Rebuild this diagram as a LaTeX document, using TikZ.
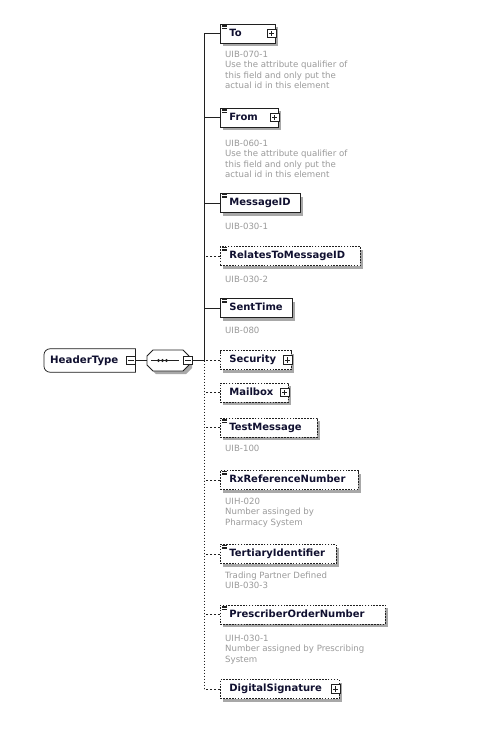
\documentclass[tikz,border=0pt]{standalone}
\usepackage{fontspec}
\setmainfont{DejaVu Sans}
\definecolor{elemtext}{HTML}{101030}
\definecolor{anntext}{HTML}{9A9A9A}
\definecolor{shadowgray}{HTML}{A8A8A8}
\definecolor{linegray}{HTML}{202020}
\begin{document}
\begin{tikzpicture}[x=1pt,y=-1pt,
  elem/.style={draw=linegray, fill=white, line width=0.75pt, anchor=west,
    minimum height=19pt, inner xsep=0pt, inner ysep=0pt,
    text height=7.6pt, text depth=2pt, align=left,
    font=\fontsize{10}{12}\selectfont\bfseries, text=elemtext,
    preaction={fill=shadowgray, draw=none, transform canvas={xshift=3pt,yshift=-3pt}}},
  optbox/.style={dash pattern=on 1.6pt off 1.3pt},
  optline/.style={line width=0.8pt, dash pattern=on 2pt off 2pt},
  dotline/.style={line width=0.9pt, dash pattern=on 1.5pt off 1.5pt},
  conn/.style={line width=0.9pt, draw=linegray},
  ann/.style={anchor=base west, inner sep=0pt, font=\fontsize{8.6}{10.5}\selectfont, text=anntext},
  plusbox/.style={draw=linegray, fill=white, line width=0.65pt, minimum size=8.5pt, inner sep=0pt,
    path picture={\draw[line width=0.65pt] ([xshift=-2.6pt]path picture bounding box.center) -- ([xshift=2.6pt]path picture bounding box.center);
                  \draw[line width=0.65pt] ([yshift=-2.6pt]path picture bounding box.center) -- ([yshift=2.6pt]path picture bounding box.center);}},
  minusbox/.style={draw=linegray, fill=white, line width=0.65pt, minimum size=8.5pt, inner sep=0pt,
    path picture={\draw[line width=0.65pt] ([xshift=-2.6pt]path picture bounding box.center) -- ([xshift=2.6pt]path picture bounding box.center);}},
  icon/.style={line width=0.4pt, draw=linegray}
]
\useasboundingbox[fill=white] (0,0) rectangle (486,742);

% ---------- elements ----------
\node[elem, text width=55pt] (to) at (220,33.5) {\hspace*{9pt}To};
\node[elem, text width=58pt] (from) at (220,117.5) {\hspace*{9pt}From};
\node[elem, text width=80pt] (msgid) at (220,203) {\hspace*{9pt}MessageID};
\node[elem, optbox, text width=140pt] (rel) at (220,256) {\hspace*{9pt}RelatesToMessageID};
\node[elem, text width=72pt] (sent) at (220,308) {\hspace*{9pt}SentTime};
\node[elem, optbox, text width=71pt] (sec) at (220,360) {\hspace*{9pt}Security};
\node[elem, optbox, text width=68pt] (mail) at (220,392.5) {\hspace*{9pt}Mailbox};
\node[elem, optbox, text width=97pt] (test) at (220,427.5) {\hspace*{9pt}TestMessage};
\node[elem, optbox, text width=138pt] (rx) at (220,480) {\hspace*{9pt}RxReferenceNumber};
\node[elem, optbox, text width=116pt] (tert) at (220,554) {\hspace*{9pt}TertiaryIdentifier};
\node[elem, optbox, text width=165pt] (presc) at (220,614.5) {\hspace*{9pt}PrescriberOrderNumber};
\node[elem, optbox, text width=119pt] (dig) at (220,689) {\hspace*{9pt}DigitalSignature};

% plus boxes
\node[plusbox] (toplus) at ([xshift=-4pt]to.east) {};
\node[plusbox] (fromplus) at ([xshift=-4pt]from.east) {};
\node[plusbox] (secplus) at ([xshift=-4pt]sec.east) {};
\node[plusbox] (mailplus) at ([xshift=-4pt]mail.east) {};
\node[plusbox] (digplus) at ([xshift=-4pt]dig.east) {};

% small element icons
\foreach \n in {to,from,msgid,rel,sent,test,rx,tert,presc}{
  \foreach \d in {1.3,2.9,4.5}{
    \draw[icon] ([xshift=2pt,yshift=-\d pt]\n.north west) -- ([xshift=7pt,yshift=-\d pt]\n.north west);
  }
}

% ---------- annotations ----------
\node[ann] (a1) at (225,57) {UIB-070-1};
\node[ann] (a2) at (225,67.5) {Use the attribute qualifier of};
\node[ann] (a3) at (225,78) {this field and only put the};
\node[ann] (a4) at (225,88.5) {actual id in this element};
\node[ann] (b1) at (225,146) {UIB-060-1};
\node[ann] (b2) at (225,156.5) {Use the attribute qualifier of};
\node[ann] (b3) at (225,167) {this field and only put the};
\node[ann] (b4) at (225,177.5) {actual id in this element};
\node[ann] (c1) at (225,229.5) {UIB-030-1};
\node[ann] (d1) at (225,282.5) {UIB-030-2};
\node[ann] (e1) at (225,333) {UIB-080};
\node[ann] (f1) at (225,451) {UIB-100};
\node[ann] (g1) at (225,504) {UIH-020};
\node[ann] (g2) at (225,514.5) {Number assinged by};
\node[ann] (g3) at (225,525) {Pharmacy System};
\node[ann] (h1) at (225,578) {Trading Partner Defined};
\node[ann] (h2) at (225,588) {UIB-030-3};
\node[ann] (i1) at (225,641) {UIH-030-1};
\node[ann] (i2) at (225,651.5) {Number assigned by Prescribing};
\node[ann] (i3) at (225,662) {System};

% ---------- HeaderType ----------
\node[inner sep=0pt, minimum width=91pt, minimum height=23pt, anchor=west] (ht) at (44,360.5) {};
\fill[shadowgray, shift={(3,3)}] (ht.north east) [rounded corners=6pt] -- (ht.north west) -- (ht.south west) [sharp corners] -- (ht.south east) -- cycle;
\draw[line width=0.75pt, draw=linegray, fill=white] (ht.north east) [rounded corners=6pt] -- (ht.north west) -- (ht.south west) [sharp corners] -- (ht.south east) -- cycle;
\node[font=\fontsize{10.2}{12}\selectfont\bfseries, text=elemtext, inner sep=0pt, text height=7.6pt, text depth=2pt, anchor=west] (httext) at ([xshift=6pt]ht.west) {HeaderType};
\node[minusbox] (htminus) at ([xshift=-4.5pt]ht.east) {};

% ---------- sequence compositor ----------
\node[inner sep=0pt, minimum width=42pt, minimum height=21pt] (seq) at (168,360.5) {};
\fill[shadowgray, shift={(3,3)}] (147,356) -- (153,350) -- (183,350) -- (189,356) -- (189,365) -- (183,371) -- (153,371) -- (147,365) -- cycle;
\draw[line width=0.75pt, draw=linegray, fill=white] (147,356) -- (153,350) -- (183,350) -- (189,356) -- (189,365) -- (183,371) -- (153,371) -- (147,365) -- cycle;
\draw[line width=0.75pt, draw=linegray] (151,360.5) -- (179,360.5);
\foreach \xx in {158.5,162.5,166.5}{
  \fill[linegray] (\xx,360.5) circle (1.6pt);
}
\node[minusbox] (seqminus) at (188,360.5) {};

% ---------- connectors ----------
\coordinate (spine) at (204,360.5);
\draw[conn] (htminus.east) -- (seq.west);
\draw[conn] (seqminus.east) -- (spine);
\draw[conn] (spine) |- (to.west);
\draw[conn] (from.west) -- (from.west -| spine);
\draw[conn] (msgid.west) -- (msgid.west -| spine);
\draw[conn] (sent.west) -- (sent.west -| spine);
\draw[conn, optline] (rel.west) -- (rel.west -| spine);
\draw[conn, dotline] (spine) -- (spine |- dig.west);
\foreach \n in {sec,mail,test,rx,tert,presc,dig}{
  \draw[conn, optline] (\n.west) -- (\n.west -| spine);
}
\end{tikzpicture}
\end{document}
